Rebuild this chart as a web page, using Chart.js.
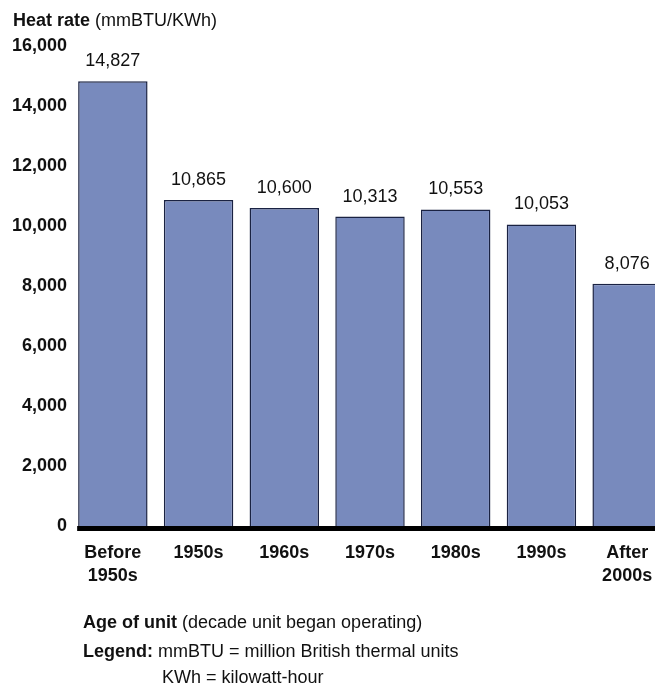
<!DOCTYPE html>
<html lang="en">
  <head>
    <meta charset="UTF-8" />
    <title>Heat rate by age of unit</title>
    <script src="https://cdn.jsdelivr.net/npm/chart.js@4.4.0/dist/chart.umd.min.js"></script>
    <style>
      html, body { margin: 0; padding: 0; overflow: hidden; background: #fff; }
      #wrap { width: 670px; height: 686px; }
    </style>
  </head>
  <body>
    <div id="wrap"><canvas id="myChart" width="670" height="686"></canvas></div>
    <script>
    const categories = [['Before', '1950s'], '1950s', '1960s', '1970s', '1980s', '1990s', ['After', '2000s']];
    const heatRate = [14827, 10865, 10600, 10313, 10553, 10053, 8076];
    const valueLabels = ['14,827', '10,865', '10,600', '10,313', '10,553', '10,053', '8,076'];
    const yTicks = [0, 2000, 4000, 6000, 8000, 10000, 12000, 14000, 16000];

    const FONT = '"Liberation Sans", Arial, sans-serif';

    // value labels over the bars, thick zero line, title and footnotes
    const textPlugin = {
      id: 'texts',
      afterDatasetsDraw(chart) {
        const ctx = chart.ctx;
        const bars = chart.getDatasetMeta(0).data;
        ctx.save();
        // heavy baseline under the bars
        const y0 = chart.scales.y.getPixelForValue(0);
        const x0 = bars[0].x - bars[0].width / 2 - 1;
        ctx.fillStyle = '#000';
        ctx.fillRect(x0, y0, chart.chartArea.right - x0, 5);

        ctx.fillStyle = '#111';
        ctx.textAlign = 'center';
        ctx.textBaseline = 'alphabetic';
        ctx.font = '18px ' + FONT;
        bars.forEach((bar, i) => {
          ctx.fillText(valueLabels[i], bar.x, bar.y - 15);
        });
        ctx.restore();
      },
      afterDraw(chart) {
        const ctx = chart.ctx;
        ctx.save();
        ctx.fillStyle = '#111';
        ctx.textAlign = 'left';
        ctx.textBaseline = 'alphabetic';
        function mixed(x, y, boldPart, rest) {
          ctx.font = 'bold 18px ' + FONT;
          ctx.fillText(boldPart, x, y);
          const w = ctx.measureText(boldPart).width;
          ctx.font = '18px ' + FONT;
          ctx.fillText(rest, x + w, y);
        }
        mixed(13, 26, 'Heat rate ', '(mmBTU/KWh)');
        mixed(83, 628, 'Age of unit ', '(decade unit began operating)');
        mixed(83, 657, 'Legend: ', 'mmBTU = million British thermal units');
        ctx.font = '18px ' + FONT;
        ctx.fillText('KWh = kilowatt-hour', 162, 683);
        ctx.restore();
      }
    };

    const ctx = document.getElementById('myChart').getContext('2d');
    const myChart = new Chart(ctx, {
      type: 'bar',
      data: {
        labels: categories,
        datasets: [{
          data: heatRate,
          backgroundColor: '#788abd',
          borderColor: '#1a2242',
          borderWidth: 1.5,
          barPercentage: 0.81,
          categoryPercentage: 1.0
        }]
      },
      options: {
        responsive: false,
        animation: false,
        layout: { padding: { top: 46, left: 0, right: 0, bottom: 0 } },
        plugins: {
          legend: { display: false },
          tooltip: { enabled: false }
        },
        scales: {
          y: {
            min: 0,
            max: 16000,
            afterFit(s) { s.width = 70; },
            afterBuildTicks(s) { s.ticks = yTicks.map(v => ({ value: v })); },
            grid: { display: false, drawTicks: false },
            border: { display: false },
            ticks: {
              color: '#111',
              padding: 3,
              font: { family: FONT, size: 18, weight: 'bold' },
              callback: v => v.toLocaleString('en-US')
            }
          },
          x: {
            afterFit(s) { s.height = 160; },
            grid: { display: false, drawTicks: false },
            border: { display: false },
            ticks: {
              color: '#111',
              padding: 15,
              font: { family: FONT, size: 18, weight: 'bold', lineHeight: 1.3 }
            }
          }
        }
      },
      plugins: [textPlugin]
    });
    </script>
  </body>
</html>
